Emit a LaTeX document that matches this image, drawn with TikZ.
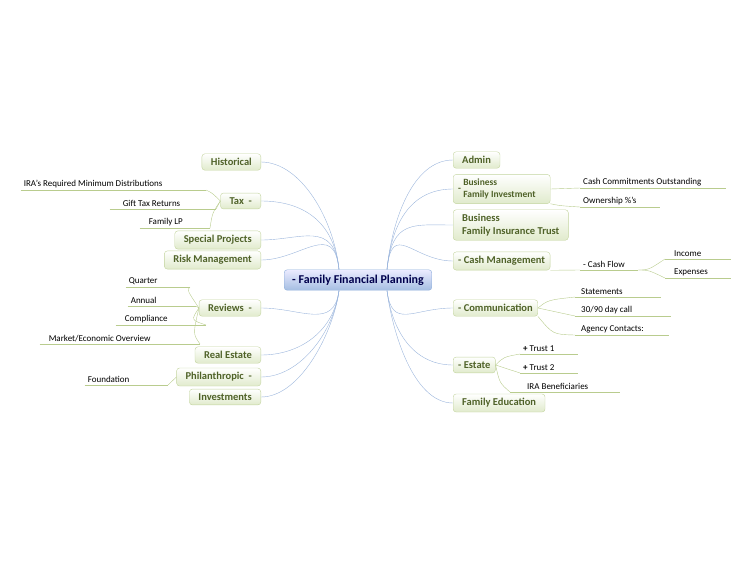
\documentclass[tikz,border=0pt]{standalone}
\usepackage{fontspec}
\setmainfont{Carlito}
\usetikzlibrary{positioning}
\definecolor{leafgreen}{HTML}{B9CC8E}
\definecolor{boxline}{HTML}{C3D49E}
\definecolor{boxtext}{HTML}{4F6228}
\definecolor{linkblue}{HTML}{9BB5DC}
\definecolor{hubline}{HTML}{8EAEDB}
\begin{document}
\begin{tikzpicture}
  [
   x=1pt, y=-1pt,
   hub/.style={rounded corners=3pt,draw=hubline,top color=blue!8,bottom color=hubline!80,inner xsep=8pt,inner ysep=5pt,font=\fontsize{12}{14}\selectfont\bfseries,text=blue!30!black},
   topic/.style={rounded corners=3pt,draw=boxline,top color=white,bottom color=green!20!olive!20,inner xsep=9pt,inner ysep=4.5pt,font=\fontsize{10.5}{12.5}\selectfont\bfseries,text=boxtext,align=flush left},
   leaf/.style={inner xsep=3pt,inner ysep=2pt,font=\fontsize{9}{10}\selectfont,align=flush left,
     append after command={(\tikzlastnode.south west) edge[leafgreen,thin] (\tikzlastnode.south east)}},
   link/.style={linkblue,thin},
   twig/.style={leafgreen,thin}
  ]
   \useasboundingbox (0,0) rectangle (750,563);

   % centre
   \node[hub] (ffp) at (358,280) {- Family Financial Planning};

   % left topics
   \node[topic,anchor=east] (hist) at (261,162) {Historical};
   \node[topic,anchor=east] (tax)  at (261,201) {Tax\ \ -};
   \node[topic,anchor=east] (spec) at (261,240) {Special Projects};
   \node[topic,anchor=east] (risk) at (261,260) {Risk Management};
   \node[topic,anchor=east] (rev)  at (261,308) {Reviews\ \ -};
   \node[topic,anchor=east] (real) at (261,355) {Real Estate};
   \node[topic,anchor=east] (phil) at (261,377) {Philanthropic\ \ -};
   \node[topic,anchor=east] (inv)  at (261,397) {Investments};

   % right topics
   \node[topic,anchor=west] (admin) at (453,160) {Admin};
   \node[topic,anchor=west,inner xsep=5pt,font=\fontsize{9.5}{12}\selectfont\bfseries] (bfi) at (453,189) {- \parbox[c]{82pt}{Business\\Family Investment}};
   \node[topic,anchor=west] (bfit) at (453,225) {Business\\Family Insurance Trust};
   \node[topic,anchor=west,inner xsep=5pt] (cash) at (453,261) {- Cash Management};
   \node[topic,anchor=west,inner xsep=5pt] (comm) at (453,308) {- Communication};
   \node[topic,anchor=west,inner xsep=5pt] (est)  at (453,365) {- Estate};
   \node[topic,anchor=west] (fedu) at (453,403) {Family Education};

   % hub links
   \foreach \t in {hist,tax,spec,risk}
     \draw[link] (ffp.north west) ++(55,0) .. controls +(-5,-50) and +(40,0) .. (\t.east);
   \foreach \t in {rev,real,phil,inv}
     \draw[link] (ffp.south west) ++(55,0) .. controls +(-5,40) and +(40,0) .. (\t.east);
   \foreach \t in {admin,bfi,bfit,cash}
     \draw[link] (ffp.north east) ++(-45,0) .. controls +(5,-50) and +(-40,0) .. (\t.west);
   \foreach \t in {comm,est,fedu}
     \draw[link] (ffp.south east) ++(-45,0) .. controls +(5,40) and +(-40,0) .. (\t.west);

   % tax leaves
   \node[leaf,anchor=south east,text width=179pt] (ira)  at (206,190) {IRA's Required Minimum Distributions};
   \node[leaf,anchor=south east,text width=100pt] (gift) at (216,209) {\hspace*{10pt}Gift Tax Returns};
   \node[leaf,anchor=south east,text width=64pt]  (flp)  at (210,228) {\hspace*{6pt}Family LP};
   \draw[twig] (tax.west) .. controls +(-8,-8) .. (ira.south east);
   \draw[twig] (tax.west) -- (gift.south east);
   \draw[twig] (tax.west) .. controls +(-8,12) .. (flp.south east);

   % review leaves
   \node[leaf,anchor=south east,text width=58pt]  (qtr)  at (190,287) {Quarter};
   \node[leaf,anchor=south east,text width=62pt]  (ann)  at (196,306) {Annual};
   \node[leaf,anchor=south east,text width=84pt]  (comp) at (206,325) {\hspace*{6pt}Compliance};
   \node[leaf,anchor=south east,text width=154pt] (mkt)  at (200,344) {\hspace*{6pt}Market/Economic Overview};
   \draw[twig] (rev.west) .. controls +(-12,-18) .. (qtr.south east);
   \draw[twig] (rev.west) -- (ann.south east);
   \draw[twig] (rev.west) .. controls +(-8,12) .. (comp.south east);
   \draw[twig] (rev.west) .. controls +(-6,26) .. (mkt.south east);

   % philanthropic leaf
   \node[leaf,anchor=south east,text width=77pt] (fnd) at (168,385) {Foundation};
   \draw[twig] (phil.west) -- (fnd.south east);

   % business leaves
   \node[leaf,anchor=south west,text width=140pt] (cco) at (580,188) {Cash Commitments Outstanding};
   \node[leaf,anchor=south west,text width=74pt]  (own) at (580,207) {Ownership \%'s};
   \draw[twig] (bfi.east) -- (cco.south west);
   \draw[twig] (bfi.south east) .. controls +(10,2) .. (own.south west);

   % cash flow
   \node[leaf,anchor=south west,text width=52pt] (cfl) at (580,270) {- Cash Flow};
   \node[leaf,anchor=south west,text width=60pt] (inc) at (665,259) {\hspace*{6pt}Income};
   \node[leaf,anchor=south west,text width=60pt] (exp) at (665,278) {\hspace*{6pt}Expenses};
   \draw[twig] (cash.south east) -- (cfl.south west);
   \draw[twig] (cfl.south east) .. controls +(10,0) .. (inc.south west);
   \draw[twig] (cfl.south east) .. controls +(10,0) .. (exp.south west);

   % communication leaves
   \node[leaf,anchor=south west,text width=80pt] (stm) at (575,297) {\hspace*{3pt}Statements};
   \node[leaf,anchor=south west,text width=90pt] (call) at (575,316) {\hspace*{3pt}30/90 day call};
   \node[leaf,anchor=south west,text width=88pt] (agc) at (575,335) {\hspace*{3pt}Agency Contacts:};
   \draw[twig] (comm.east) .. controls +(10,-8) .. (stm.south west);
   \draw[twig] (comm.east) -- (call.south west);
   \draw[twig] (comm.south east) .. controls +(15,18) .. (agc.south west);

   % estate leaves
   \node[leaf,anchor=south west,text width=52pt] (tr1) at (520,354) {\textbf{+} Trust 1};
   \node[leaf,anchor=south west,text width=52pt] (tr2) at (520,373) {\textbf{+} Trust 2};
   \node[leaf,anchor=south west,text width=104pt] (irb) at (510,392) {\hspace*{14pt}IRA Beneficiaries};
   \draw[twig] (est.east) .. controls +(8,-8) .. (tr1.south west);
   \draw[twig] (est.east) -- (tr2.south west);
   \draw[twig] (est.east) .. controls +(4,18) .. (irb.south west);

\end{tikzpicture}
\end{document}
